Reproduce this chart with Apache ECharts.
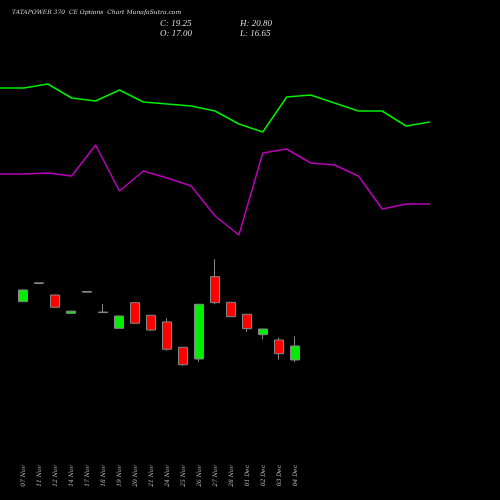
<!DOCTYPE html>
<html>
<head>
<meta charset="utf-8">
<script src="https://cdn.jsdelivr.net/npm/echarts@6/dist/echarts.min.js"></script>
<style>html,body{margin:0;background:#000}#c{width:500px;height:500px}</style>
</head>
<body>
<div id="c"></div>
<script>
var dates = ['07 Nov','11 Nov','12 Nov','14 Nov','17 Nov','18 Nov','19 Nov','20 Nov','21 Nov','24 Nov','25 Nov','26 Nov','27 Nov','28 Nov','01 Dec','02 Dec','03 Dec','04 Dec'];
// open, close, low, high
var candles = [
  [26.37, 28.25, 26.37, 28.25],
  [29.30, 29.40, 29.30, 29.40],
  [27.45, 25.47, 25.47, 27.45],
  [24.50, 24.85, 24.50, 24.85],
  [27.90, 28.00, 27.90, 28.00],
  [24.62, 24.70, 24.62, 26.00],
  [22.09, 24.07, 22.09, 24.07],
  [26.21, 22.90, 22.90, 26.21],
  [24.18, 21.82, 21.71, 24.18],
  [23.11, 18.72, 18.49, 23.70],
  [19.04, 16.24, 16.08, 19.04],
  [17.16, 25.95, 16.73, 25.95],
  [30.39, 26.21, 25.95, 33.18],
  [26.27, 23.96, 23.96, 26.27],
  [24.34, 22.03, 21.50, 24.34],
  [21.07, 21.98, 20.33, 21.98],
  [20.21, 18.01, 17.05, 20.58],
  [17.00, 19.25, 16.65, 20.80]
];
// indicator lines (screen level, larger = lower)
var greenLine = [88,88,84,98,101,90,102,104,106,111,124,132,97,95,103,111,111,126,122];
var purpleLine = [174,174,173,176,145,191,171,178,186,216,235,153,149,163,165,176,209,204,204];
var lineIdx = greenLine.map(function (v, i) { return i; });

var chart = echarts.init(document.getElementById('c'));
chart.setOption({
  backgroundColor: '#000',
  animation: false,
  graphic: [
    { type: 'text', left: 12, top: 9, style: { text: 'TATAPOWER 370  CE Options  Chart MunafaSutra.com', fill: '#ddd', font: 'italic 6px "DejaVu Serif"' } },
    { type: 'text', left: 160, top: 19, style: { text: 'C: 19.25', fill: '#ddd', font: 'italic 9px "Liberation Serif"' } },
    { type: 'text', left: 160, top: 29, style: { text: 'O: 17.00', fill: '#ddd', font: 'italic 9px "Liberation Serif"' } },
    { type: 'text', left: 240, top: 19, style: { text: 'H: 20.80', fill: '#ddd', font: 'italic 9px "Liberation Serif"' } },
    { type: 'text', left: 240, top: 29, style: { text: 'L: 16.65', fill: '#ddd', font: 'italic 9px "Liberation Serif"' } }
  ],
  grid: [
    { left: 0, right: 70, top: 0, bottom: 0 },
    { left: 15, width: 288, top: 0, bottom: 15 }
  ],
  xAxis: [
    { type: 'category', gridIndex: 0, data: lineIdx, boundaryGap: false, show: false },
    { type: 'category', gridIndex: 1, data: dates, axisLine: { show: false }, axisTick: { show: false },
      axisLabel: { rotate: 90, color: '#bbb', fontSize: 6, fontFamily: 'DejaVu Serif', fontStyle: 'italic', interval: 0, margin: -20 } }
  ],
  yAxis: [
    { type: 'value', gridIndex: 0, min: 0, max: 500, inverse: true, show: false },
    { type: 'value', gridIndex: 1, min: -3.09, max: 74.85, show: false }
  ],
  series: [
    { type: 'line', xAxisIndex: 0, yAxisIndex: 0, data: greenLine, symbol: 'none', lineStyle: { color: '#00ee00', width: 1.5 } },
    { type: 'line', xAxisIndex: 0, yAxisIndex: 0, data: purpleLine, symbol: 'none', lineStyle: { color: '#bb00bb', width: 1.5 } },
    { type: 'candlestick', xAxisIndex: 1, yAxisIndex: 1, data: candles, barWidth: 10,
      itemStyle: { color: '#00ee00', color0: '#ff0000', borderColor: '#888', borderColor0: '#888', borderWidth: 1 } }
  ]
});
</script>
</body>
</html>
